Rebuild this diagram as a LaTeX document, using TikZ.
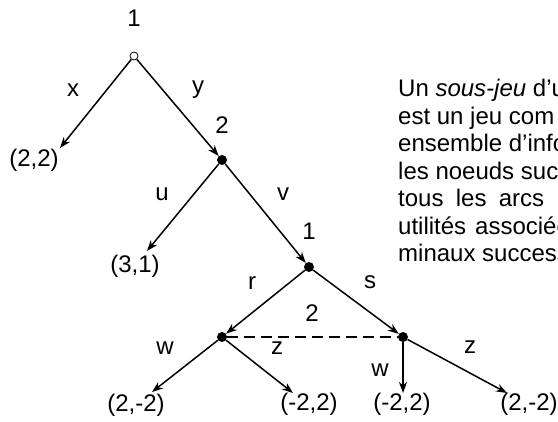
\documentclass[tikz,border=0pt]{standalone}
\usepackage{fontspec}
\setmainfont{Liberation Sans}
\usetikzlibrary{arrows.meta}
\begin{document}
\begin{tikzpicture}[x=1pt,y=-1pt,
  lbl/.style={inner sep=0pt, font=\fontsize{24}{27.5}\selectfont},
  dot/.style={circle, fill=black, inner sep=0pt, minimum size=10pt},
  opendot/.style={circle, draw=black, line width=0.8pt, fill=white, inner sep=0pt, minimum size=8pt},
  arc/.style={line width=1.5pt, -{Stealth[length=11pt,width=8pt,inset=3.5pt]}},
  infoset/.style={line width=1.5pt, dash pattern=on 11pt off 6pt},
  para/.style={anchor=base west, inner sep=0pt, font=\fontsize{24}{27.5}\selectfont}
]
\clip (0,0) rectangle (558,422);
\fill[white] (0,0) rectangle (558,422);

% decision nodes
\node[opendot] (root) at (134,56) {};
\node[dot] (n2) at (222,160) {};
\node[dot] (n1) at (309,267) {};
\node[dot] (i1) at (222,337) {};
\node[dot] (i2) at (403,337) {};

% player labels
\node[lbl] (p1) at (134,18) {1};
\node[lbl] (p2) at (222,125) {2};
\node[lbl] (p1b) at (309,231) {1};
\node[lbl] (p2b) at (312,313) {2};

% terminal payoffs
\node[lbl] (t22) at (34,160) {(2,2)};
\node[lbl] (t31) at (135,266) {(3,1)};
\node[lbl] (ta) at (136,405) {(2,-2)};
\node[lbl] (tb) at (309,404) {(-2,2)};
\node[lbl] (tc) at (402,404) {(-2,2)};
\node[lbl] (td) at (529,404) {(2,-2)};

% arrow tips
\coordinate (a22) at (60,148);
\coordinate (a31) at (147,251);
\coordinate (aa) at (152,392);
\coordinate (ab) at (293,393);
\coordinate (ac) at (403,393);
\coordinate (ad) at (507,393);

% connectors
\draw[arc] (root) -- (a22);
\draw[arc] (root) -- (n2);
\draw[arc] (n2) -- (a31);
\draw[arc] (n2) -- (n1);
\draw[arc] (n1) -- (i1);
\draw[arc] (n1) -- (i2);
\draw[arc] (i1) -- (aa);
\draw[arc] (i1) -- (ab);
\draw[arc] (i2) -- (ac);
\draw[arc] (i2) -- (ad);
\draw[infoset] (i1) -- (i2);

% action labels
\node[lbl] (lx) at (73,90) {x};
\node[lbl] (ly) at (198,90) {y};
\node[lbl] (lu) at (162,194) {u};
\node[lbl] (lv) at (283,194) {v};
\node[lbl] (lr) at (252,283) {r};
\node[lbl] (ls) at (370,282) {s};
\node[lbl] (lw1) at (165,348) {w};
\node[lbl] (lz1) at (277,348) {z};
\node[lbl] (lw2) at (380,370) {w};
\node[lbl] (lz2) at (470,347) {z};

% paragraph (cut at the right edge, as in the reference)
\node[para] (l1) at (398,97) {Un \textit{sous-jeu} d’un jeu};
\node[para] (l2) at (398,124.5) {est un jeu com};
\node[para] (l3) at (398,152) {ensemble d’information};
\node[para] (l4) at (398,179.5) {les noeuds successeurs};
\node[para] (l5) at (398,207) {\spaceskip=12.3pt\relax tous les arcs};
\node[para] (l6) at (398,234.5) {\spaceskip=9pt\relax utilités associées};
\node[para] (l7) at (398,262) {minaux successeurs.};
\end{tikzpicture}
\end{document}
